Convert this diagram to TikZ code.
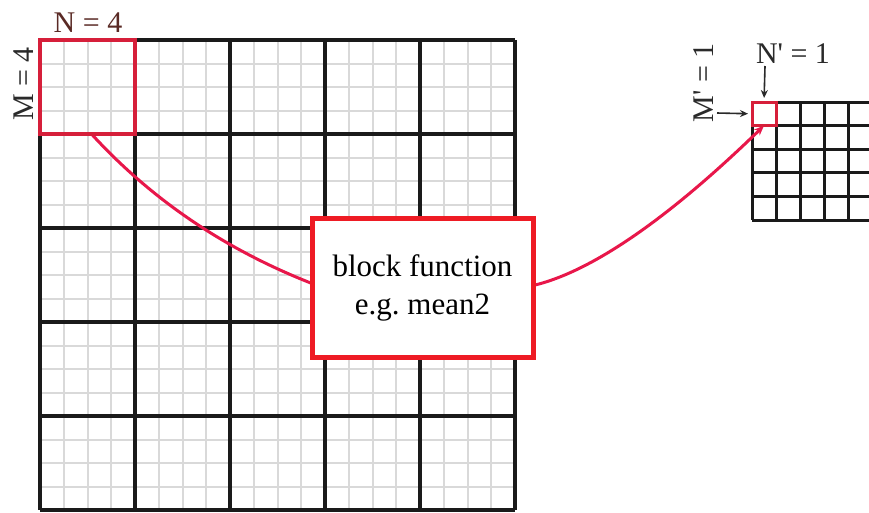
\documentclass[tikz,border=0pt]{standalone}
\usepackage{fontspec}
\setmainfont{Liberation Serif}
\usetikzlibrary{arrows.meta}
\definecolor{hlred}{HTML}{D61F3A}
\definecolor{boxred}{HTML}{EE1B24}
\definecolor{curvered}{HTML}{E8174A}
\definecolor{finegray}{HTML}{D9D9D9}
\definecolor{gridblack}{HTML}{1A1A1A}
\definecolor{labelbrown}{HTML}{5A2A25}
\definecolor{labeldark}{HTML}{2A2A2A}
\pgfdeclarelayer{gridlayer}
\pgfdeclarelayer{curvelayer}
\pgfsetlayers{gridlayer,curvelayer,main}
\tikzset{
  fineline/.style={draw=finegray, line width=2pt},
  biggrid/.style={draw=gridblack, line width=3.8pt},
  smallgrid/.style={draw=gridblack, line width=3pt},
  hlbox/.style={draw=hlred, line width=4pt, inner sep=0pt, outer sep=0pt},
  fnbox/.style={draw=boxred, line width=5pt, fill=white, inner sep=0pt, outer sep=0pt,
    minimum width=221pt, minimum height=139pt, align=center,
    font=\fontsize{31}{38}\selectfont},
  lbl/.style={font=\fontsize{30}{36}\selectfont, inner sep=0pt},
  curveline/.style={draw=curvered, line width=3pt},
  smallarrow/.style={draw=labeldark, line width=1.6pt, -{Stealth[length=8pt,width=7pt]}}
}
\begin{document}
\begin{tikzpicture}[x=1pt,y=-1pt]
\useasboundingbox (0,0) rectangle (869,512);
\clip (0,0) rectangle (869,512);
\begin{pgfonlayer}{gridlayer}
\fill[white] (0,0) rectangle (869,512);
% fine grid of the big image
\foreach \i in {0,...,20} {
  \draw[fineline] ({40+23.75*\i},40) -- ++(0,470);
  \draw[fineline] (40,{40+23.5*\i}) -- ++(475,0);
}
% block grid
\foreach \i in {0,...,5} {
  \draw[biggrid] ({40+95*\i},40) -- ++(0,470);
  \draw[biggrid] (40,{40+94*\i}) -- ++(475,0);
}
% small grid
\foreach \i in {0,...,5} {
  \draw[smallgrid] ({752+24*\i},102) -- ++(0,118);
  \draw[smallgrid] (752,{102+23.6*\i}) -- ++(130,0);
}
\end{pgfonlayer}
% highlighted block and cell
\node[hlbox, minimum width=95pt, minimum height=94pt] (blk) at (87.5,87) {};
\node[hlbox, line width=3pt, minimum width=24pt, minimum height=23.6pt] (cell) at (764,113.8) {};
% function box
\node[fnbox] (fn) at (422.5,287.5) {block function\\e.g.\ mean2};
% curves
\begin{pgfonlayer}{curvelayer}
\draw[curveline] ([xshift=4pt]blk.south) .. controls (151,199) and (224,249) .. ([yshift=4pt]fn.west);
\draw[curveline, -{Stealth[length=10pt,width=8pt]}] ([yshift=2pt]fn.east) .. controls (591,272) and (668,219) .. (cell.south);
\end{pgfonlayer}
% labels
\node[lbl, text=labelbrown, anchor=base] (nlab) at (88,32) {N = 4};
\node[lbl, text=labeldark, rotate=90, anchor=base] (mlab) at (33,84) {M = 4};
\node[lbl, text=labeldark, anchor=base] (nplab) at (793,63) {N\textquotesingle{} = 1};
\node[lbl, text=labeldark, rotate=90, anchor=base] (mplab) at (713,83) {M\textquotesingle{} = 1};
\coordinate (na) at (765,66);
\coordinate (ma) at (717,113);
\draw[smallarrow, shorten >=4pt] (na) -- (cell.north);
\draw[smallarrow, shorten >=4pt] (ma) -- (cell.west);
\end{tikzpicture}
\end{document}
